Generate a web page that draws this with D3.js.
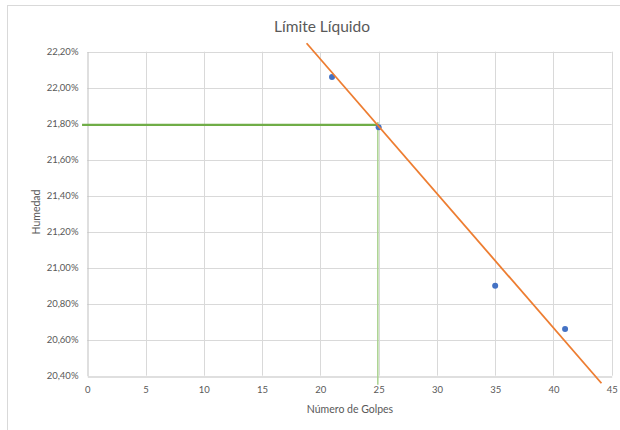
<!DOCTYPE html>
<html>
<head>
<meta charset="utf-8">
<script src="https://cdn.jsdelivr.net/npm/d3@7"></script>
<style>
  html, body { margin: 0; padding: 0; background: #fff; }
  svg { display: block; font-family: Lato, "Open Sans", sans-serif; }
</style>
</head>
<body>
<svg id="chart" width="620" height="430"></svg>
<script>
// Ensayo de límite líquido: golpes vs. humedad
const golpes = [21, 25, 35, 41];
const humedad = [22.06, 21.78, 20.90, 20.66];

// Línea de tendencia (extremos)
const tendenciaX = [18.82, 44.12];
const tendenciaY = [22.247, 20.358];

// Lectura del límite líquido a 25 golpes
const lecturaHX = [-0.45, 25];
const lecturaHY = [21.794, 21.794];
const lecturaVX = [24.93, 24.93];
const lecturaVY = [21.81, 20.35];

const xTicks = [0, 5, 10, 15, 20, 25, 30, 35, 40, 45];
const yTicks = [20.4, 20.6, 20.8, 21.0, 21.2, 21.4, 21.6, 21.8, 22.0, 22.2];

const svg = d3.select("#chart");
const plotL = 87.3, plotR = 611.7, plotT = 51.7, plotB = 375.7;

const x = d3.scaleLinear().domain([0, 45]).range([plotL, plotR]);
const y = d3.scaleLinear().domain([20.4, 22.2]).range([plotB, plotT]);

// Marco del gráfico
svg.append("rect")
  .attr("x", 7.5).attr("y", 5.5).attr("width", 640).attr("height", 460)
  .attr("fill", "none").attr("stroke", "#d9d9d9").attr("stroke-width", 1);

// Título
svg.append("text")
  .attr("x", 322).attr("y", 32)
  .attr("text-anchor", "middle")
  .attr("font-size", 15.5).attr("fill", "#595959")
  .text("Límite Líquido");

// Rejilla
const grid = svg.append("g");
grid.selectAll("line.v").data(xTicks.slice(1)).join("line")
  .attr("x1", d => Math.round(x(d)) + 0.5).attr("x2", d => Math.round(x(d)) + 0.5)
  .attr("y1", plotT).attr("y2", plotB)
  .attr("stroke", "#d9d9d9").attr("stroke-width", 1);
grid.selectAll("line.h").data(yTicks.slice(1)).join("line")
  .attr("x1", plotL).attr("x2", plotR)
  .attr("y1", d => Math.round(y(d)) + 0.5).attr("y2", d => Math.round(y(d)) + 0.5)
  .attr("stroke", "#d9d9d9").attr("stroke-width", 1);

// Ejes
const fmtPct = d => d3.format(".2f")(d).replace(".", ",") + "%";
const xAxis = svg.append("g")
  .attr("transform", `translate(0,${Math.round(plotB) + 0.5})`)
  .call(d3.axisBottom(x).tickValues(xTicks).tickSize(0).tickPadding(10));
const yAxis = svg.append("g")
  .attr("transform", `translate(${Math.round(plotL) + 0.5},0)`)
  .call(d3.axisLeft(y).tickValues(yTicks).tickFormat(fmtPct).tickSize(0).tickPadding(9));
[xAxis, yAxis].forEach(a => {
  a.select(".domain").attr("stroke", "#bfbfbf");
  a.selectAll("text").attr("fill", "#595959").attr("font-size", 9.5)
    .attr("font-family", 'Lato, "Open Sans", sans-serif');
});

// Títulos de ejes
svg.append("text")
  .attr("x", 350).attr("y", 413)
  .attr("text-anchor", "middle").attr("font-size", 10.5).attr("fill", "#595959")
  .text("Número de Golpes");
svg.append("text")
  .attr("transform", "translate(40,212) rotate(-90)")
  .attr("text-anchor", "middle").attr("font-size", 10.5).attr("fill", "#595959")
  .text("Humedad");

const line = d3.line().x(d => x(d[0])).y(d => y(d[1]));

// Lectura a 25 golpes
svg.append("path")
  .attr("d", line(d3.zip(lecturaVX, lecturaVY)))
  .attr("fill", "none").attr("stroke", "#a9d18e").attr("stroke-width", 1.5);
svg.append("path")
  .attr("d", line(d3.zip(lecturaHX, lecturaHY)))
  .attr("fill", "none").attr("stroke", "#70ad47").attr("stroke-width", 2.2);

// Puntos
svg.append("g").selectAll("circle").data(d3.zip(golpes, humedad)).join("circle")
  .attr("cx", d => x(d[0])).attr("cy", d => y(d[1])).attr("r", 3)
  .attr("fill", "#4472c4");

// Tendencia
svg.append("path")
  .attr("d", line(d3.zip(tendenciaX, tendenciaY)))
  .attr("fill", "none").attr("stroke", "#ed7d31").attr("stroke-width", 1.8);
</script>
</body>
</html>
